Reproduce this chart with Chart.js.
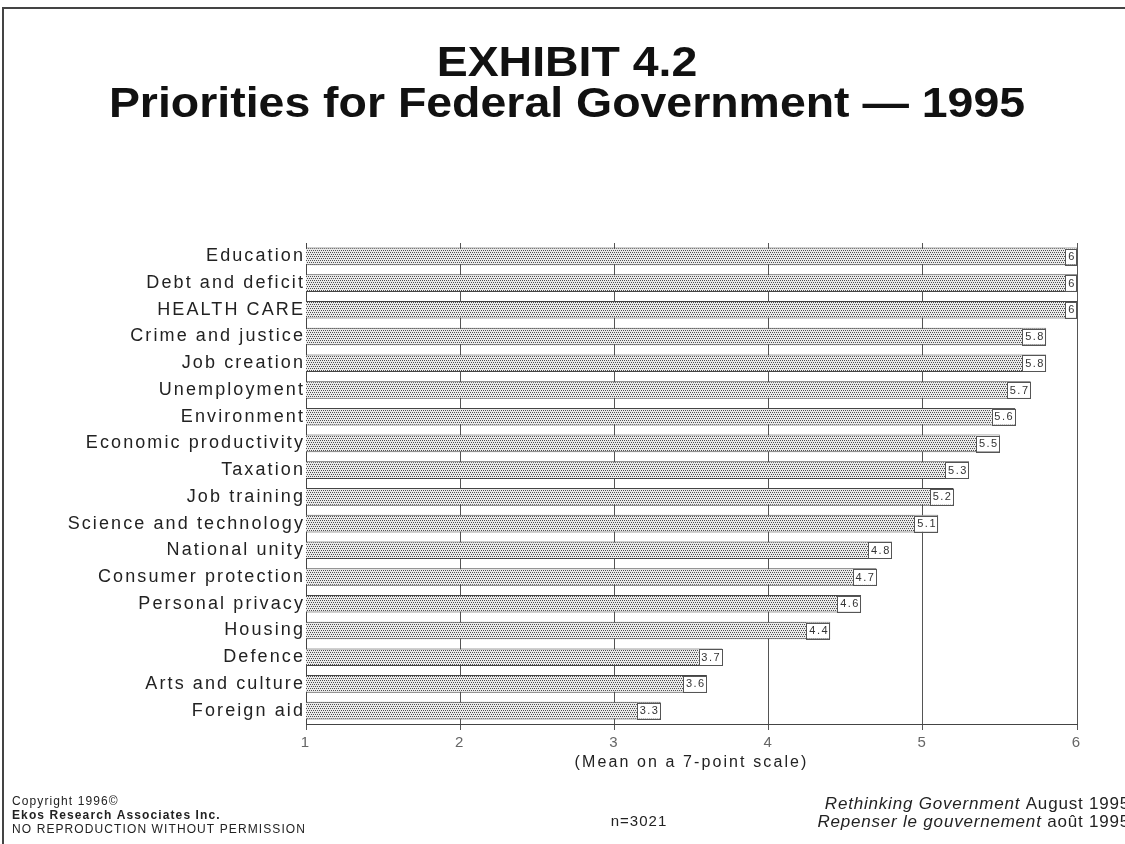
<!DOCTYPE html>
<html>
<head>
<meta charset="utf-8">
<title>Priorities for Federal Government — 1995</title>
<script src="https://cdn.jsdelivr.net/npm/chart.js@4.4.1/dist/chart.umd.min.js"></script>
<style>
  html, body { margin: 0; padding: 0; background: #fff; }
  #wrap { width: 1125px; height: 844px; position: relative; }
</style>
</head>
<body>
<div id="wrap"><canvas id="priorites" width="1125" height="844"></canvas></div>
<script>
// Priorités du gouvernement fédéral, moyenne sur une échelle de 7 points
const categories = [
  "Education", "Debt and deficit", "HEALTH CARE", "Crime and justice",
  "Job creation", "Unemployment", "Environment", "Economic productivity",
  "Taxation", "Job training", "Science and technology", "National unity",
  "Consumer protection", "Personal privacy", "Housing", "Defence",
  "Arts and culture", "Foreign aid"
];
const moyennes = [6, 6, 6, 5.8, 5.8, 5.7, 5.6, 5.5, 5.3, 5.2, 5.1, 4.8, 4.7, 4.6, 4.4, 3.7, 3.6, 3.3];
const etiquettes = ["6", "6", "6", "5.8", "5.8", "5.7", "5.6", "5.5", "5.3", "5.2", "5.1", "4.8", "4.7", "4.6", "4.4", "3.7", "3.6", "3.3"];
const graduations = [1, 2, 3, 4, 5, 6];

const POLICE = "'Liberation Sans', Arial, Helvetica, sans-serif";

// Trame pointillée des barres
function trame() {
  const c = document.createElement("canvas");
  c.width = 4; c.height = 4;
  const g = c.getContext("2d");
  g.fillStyle = "#ebebeb";
  g.fillRect(0, 0, 4, 4);
  g.fillStyle = "#505050";
  g.fillRect(0, 0, 1, 1);
  g.fillRect(2, 0, 1, 1);
  g.fillRect(1, 2, 1, 1);
  g.fillRect(3, 2, 1, 1);
  return g.createPattern(c, "repeat");
}

// Espacement des lettres pour les textes des axes
const espacement = {
  id: "espacement",
  beforeDraw(chart) {
    chart.ctx.letterSpacing = "2.1px";
  }
};

// Cadre, titres et pied de page
const habillage = {
  id: "habillage",
  beforeDraw(chart) {
    const ctx = chart.ctx;
    ctx.save();
    ctx.letterSpacing = "0px";
    ctx.strokeStyle = "#444";
    ctx.lineWidth = 2;
    ctx.beginPath();
    ctx.moveTo(3, 844);
    ctx.lineTo(3, 8);
    ctx.lineTo(1125, 8);
    ctx.stroke();

    ctx.fillStyle = "#111";
    ctx.textAlign = "center";
    ctx.textBaseline = "alphabetic";
    ctx.font = "bold 43px " + POLICE;
    ctx.translate(567, 0);
    ctx.scale(1.08, 1);
    ctx.fillText("EXHIBIT 4.2", 0, 76);
    ctx.fillText("Priorities for Federal Government \u2014 1995", 0, 117);
    ctx.restore();
  },
  afterDraw(chart) {
    const ctx = chart.ctx;
    ctx.save();
    ctx.fillStyle = "#222";
    ctx.textBaseline = "middle";
    ctx.textAlign = "left";
    ctx.letterSpacing = "1.1px";
    ctx.font = "12px " + POLICE;
    ctx.fillText("Copyright 1996\u00a9", 12, 802);
    ctx.font = "bold 12px " + POLICE;
    ctx.fillText("Ekos Research Associates Inc.", 12, 816);
    ctx.font = "12px " + POLICE;
    ctx.fillText("NO REPRODUCTION WITHOUT PERMISSION", 12, 830);

    ctx.letterSpacing = "1px";
    ctx.font = "15px " + POLICE;
    ctx.textAlign = "center";
    ctx.fillText("n=3021", 639, 822);

    // Références à droite : partie italique puis partie droite
    ctx.letterSpacing = "0.8px";
    ctx.textAlign = "left";
    const lignes = [
      ["Rethinking Government", " August 1995", 804],
      ["Repenser le gouvernement", " août 1995", 822]
    ];
    lignes.forEach(([ital, droit, y]) => {
      ctx.font = "italic 17px " + POLICE;
      const w = ctx.measureText(ital).width;
      ctx.font = "17px " + POLICE;
      const w2 = ctx.measureText(droit).width;
      const x0 = 1130 - w - w2;
      ctx.font = "italic 17px " + POLICE;
      ctx.fillText(ital, x0, y);
      ctx.font = "17px " + POLICE;
      ctx.fillText(droit, x0 + w, y);
    });
    ctx.restore();
  }
};

// Petite boîte avec la valeur au bout de chaque barre
const valeurs = {
  id: "valeurs",
  afterDatasetsDraw(chart) {
    const ctx = chart.ctx;
    const meta = chart.getDatasetMeta(0);
    ctx.save();
    ctx.letterSpacing = "1.5px";
    ctx.font = "11px " + POLICE;
    ctx.textAlign = "center";
    ctx.textBaseline = "middle";
    meta.data.forEach((bar, i) => {
      const txt = etiquettes[i];
      const w = ctx.measureText(txt).width + 4;
      const h = bar.height - 2;
      const x = bar.x - w;
      const y = bar.y - h / 2;
      ctx.fillStyle = "#fff";
      ctx.fillRect(x, y, w, h);
      ctx.strokeStyle = "#555";
      ctx.lineWidth = 1;
      ctx.strokeRect(Math.round(x) + 0.5, Math.round(y) + 0.5, Math.round(w) - 1, Math.round(h));
      ctx.fillStyle = "#333";
      ctx.fillText(txt, x + w / 2 + 0.8, bar.y + 0.5);
    });
    ctx.restore();
  }
};

const ctx = document.getElementById("priorites");

new Chart(ctx, {
  type: "bar",
  data: {
    labels: categories,
    datasets: [{
      data: moyennes,
      backgroundColor: trame(),
      borderColor: "#444",
      borderWidth: 1,
      borderSkipped: "start",
      barPercentage: 0.66,
      categoryPercentage: 1
    }]
  },
  options: {
    indexAxis: "y",
    responsive: false,
    animation: false,
    layout: { padding: { top: 243, right: 48, bottom: 64, left: 0 } },
    plugins: {
      legend: { display: false },
      tooltip: { enabled: false }
    },
    scales: {
      x: {
        type: "linear",
        min: 1,
        max: 6,
        afterBuildTicks(scale) {
          scale.ticks = graduations.map(v => ({ value: v }));
        },
        afterFit(scale) { scale.height = 56; },
        grid: { color: "#555", lineWidth: 1, tickLength: 6 },
        border: { color: "#444", width: 1 },
        ticks: {
          color: "#666",
          padding: 4,
          font: { family: POLICE, size: 15 }
        },
        title: {
          display: true,
          text: "(Mean on a 7-point scale)",
          color: "#222",
          padding: { top: 0, bottom: 8 },
          font: { family: POLICE, size: 16 }
        }
      },
      y: {
        afterFit(scale) { scale.width = 306; },
        grid: { display: false, drawTicks: false },
        border: { display: true, color: "#444", width: 1 },
        ticks: {
          color: "#222",
          padding: 1,
          font: { family: POLICE, size: 18 }
        }
      }
    }
  },
  plugins: [espacement, habillage, valeurs]
});
</script>
</body>
</html>
